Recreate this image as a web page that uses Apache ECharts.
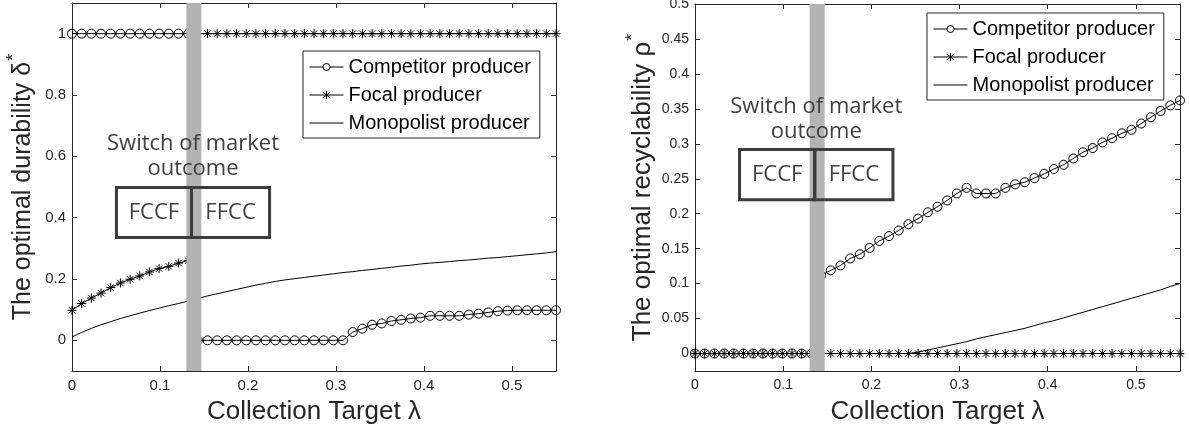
<!DOCTYPE html>
<html>
<head>
<meta charset="utf-8">
<script src="https://cdn.jsdelivr.net/npm/echarts@6/dist/echarts.min.js"></script>
<style>
  html, body { margin: 0; padding: 0; background: #fff; }
  #chart { width: 1189px; height: 433px; }
</style>
</head>
<body>
<div id="chart"></div>
<script>
// collection target lambda (x grid shared by every curve)
var lambda = [0, 0.011, 0.022, 0.033, 0.044, 0.055, 0.066, 0.077, 0.088, 0.099,
    0.11, 0.121, 0.132, 0.143, 0.154, 0.165, 0.176, 0.187, 0.198, 0.209,
    0.22, 0.231, 0.242, 0.253, 0.264, 0.275, 0.286, 0.297, 0.308, 0.319,
    0.33, 0.341, 0.352, 0.363, 0.374, 0.385, 0.396, 0.407, 0.418, 0.429,
    0.44, 0.451, 0.462, 0.473, 0.484, 0.495, 0.506, 0.517, 0.528, 0.539, 0.55];

// left panel: optimal durability
var durCompetitor = [1, 1, 1, 1, 1, 1, 1, 1, 1, 1, 1, 1, 1, 0,
    0, 0, 0, 0, 0, 0, 0, 0, 0, 0, 0, 0, 0, 0, 0,
    0.027, 0.038, 0.051, 0.055, 0.063, 0.067, 0.071, 0.074, 0.080, 0.080, 0.080,
    0.080, 0.084, 0.087, 0.091, 0.095, 0.097, 0.098, 0.098, 0.098, 0.098, 0.098];
var durFocal = [0.098, 0.120, 0.138, 0.154, 0.172, 0.187, 0.199, 0.210, 0.223, 0.234,
    0.241, 0.252, 0.260, 1, 1, 1, 1, 1, 1, 1, 1, 1, 1, 1, 1, 1, 1, 1, 1, 1,
    1, 1, 1, 1, 1, 1, 1, 1, 1, 1, 1, 1, 1, 1, 1, 1, 1, 1, 1, 1, 1];
var durMonopolist = [0.011, 0.026, 0.039, 0.051, 0.061, 0.071, 0.080, 0.089, 0.097, 0.105,
    0.113, 0.120, 0.128, 0.136, 0.145, 0.152, 0.159, 0.166, 0.173, 0.180,
    0.186, 0.192, 0.197, 0.201, 0.205, 0.209, 0.213, 0.217, 0.221, 0.224,
    0.228, 0.231, 0.235, 0.238, 0.242, 0.245, 0.249, 0.252, 0.254, 0.257,
    0.260, 0.262, 0.265, 0.268, 0.270, 0.273, 0.276, 0.279, 0.282, 0.285, 0.289];

// right panel: optimal recyclability
var recCompetitor = [0, 0, 0, 0, 0, 0, 0, 0, 0, 0, 0, 0, 0, 0.112,
    0.119, 0.126, 0.136, 0.142, 0.151, 0.161, 0.168, 0.176, 0.185, 0.193,
    0.202, 0.210, 0.219, 0.229, 0.237,
    0.229, 0.229, 0.229, 0.237, 0.242, 0.245, 0.251, 0.257, 0.264, 0.270,
    0.279, 0.288, 0.294, 0.302, 0.308, 0.315, 0.320, 0.329, 0.338, 0.347, 0.355, 0.362];
var recFocal = [0, 0, 0, 0, 0, 0, 0, 0, 0, 0, 0, 0, 0, 0, 0, 0, 0, 0, 0, 0,
    0, 0, 0, 0, 0, 0, 0, 0, 0, 0, 0, 0, 0, 0, 0, 0, 0, 0, 0, 0,
    0, 0, 0, 0, 0, 0, 0, 0, 0, 0, 0];
var recMonopolist = [0, 0, 0, 0, 0, 0, 0, 0, 0, 0, 0, 0, 0, 0, 0, 0, 0, 0, 0, 0,
    0, 0, 0, 0.002, 0.005, 0.008, 0.011, 0.014, 0.017, 0.021,
    0.024, 0.027, 0.030, 0.033, 0.036, 0.040, 0.044, 0.047, 0.051, 0.055,
    0.059, 0.063, 0.067, 0.071, 0.075, 0.079, 0.083, 0.087, 0.091, 0.096, 0.100];

var xTicks = [0, 0.1, 0.2, 0.3, 0.4, 0.5];
var durTicks = [0, 0.2, 0.4, 0.6, 0.8, 1];
var recTicks = [0, 0.05, 0.1, 0.15, 0.2, 0.25, 0.3, 0.35, 0.4, 0.45, 0.5];

var seriesNames = ['Competitor producer', 'Focal producer', 'Monopolist producer'];
var switchBand = [0.13, 0.147];          // grey "switch" strip
var regimes = ['FCCF', 'FFCC'];

var AXIS = '#262626';
var FONT = 'Liberation Sans, Arial';
var ASTERISK = 'path://M5,0L5,10M0,5L10,5M1.46,1.46L8.54,8.54M1.46,8.54L8.54,1.46';

// legend keys drawn in a 34x10 box: line with marker in the middle
var KEY_CIRCLE = 'path://M0,5H13.5A3.5,3.5 0 1,1 20.5,5A3.5,3.5 0 1,1 13.5,5M20.5,5H34M0,0.01H0.01M33.99,9.99H34';
var KEY_STAR = 'path://M0,5H34M17,1V9M13.2,2.2L20.8,7.8M13.2,7.8L20.8,2.2M0,0.01H0.01M33.99,9.99H34';
var KEY_LINE = 'path://M0,5H34M0,0.01H0.01M33.99,9.99H34';

function pts(vals) {
    return lambda.map(function (x, i) { return [x, vals[i]]; });
}

function xAxes(grid, tickSize) {
    var base = {
        type: 'value', gridIndex: grid, min: 0, max: 0.55,
        axisLine: { onZero: false, lineStyle: { color: AXIS, width: 1 } },
        axisTick: { inside: true, length: 5, customValues: xTicks, lineStyle: { color: AXIS } },
        splitLine: { show: false }
    };
    var bottom = echarts.util.merge({
        position: 'bottom',
        axisLabel: { customValues: xTicks, margin: 7, color: AXIS, fontSize: tickSize, fontFamily: FONT },
        name: 'Collection Target \u03bb', nameLocation: 'middle', nameGap: 28,
        nameTextStyle: { fontSize: 26, color: AXIS, fontFamily: FONT }
    }, base, true);
    var top = echarts.util.merge({ position: 'top', axisLabel: { show: false } }, base, true);
    return [bottom, top];
}

function yAxes(grid, min, max, ticks, tickSize, name, nameSize, gap) {
    var base = {
        type: 'value', gridIndex: grid, min: min, max: max,
        axisLine: { show: true, onZero: false, lineStyle: { color: AXIS, width: 1 } },
        axisTick: { show: true, inside: true, length: 5, customValues: ticks, lineStyle: { color: AXIS } },
        splitLine: { show: false }
    };
    var left = echarts.util.merge({
        position: 'left',
        axisLabel: { customValues: ticks, margin: 6, color: AXIS, fontSize: tickSize, fontFamily: FONT },
        name: name + '{sup|*}', nameLocation: 'middle', nameGap: gap,
        nameTextStyle: { fontSize: nameSize, color: AXIS, fontFamily: FONT,
            rich: { sup: { fontSize: 18, padding: [0, 0, 19, 1], color: AXIS } } }
    }, base, true);
    var right = echarts.util.merge({ position: 'right', axisLabel: { show: false } }, base, true);
    return [left, right];
}

function panelSeries(xi, yi, comp, foc, mono, boxTop, boxBottom, labelDist) {
    var line = { width: 1, color: '#000' };
    return [
        {
            name: seriesNames[0], type: 'line', xAxisIndex: xi, yAxisIndex: yi,
            data: pts(comp), symbol: 'circle', symbolSize: 9, lineStyle: line,
            itemStyle: { color: 'none', borderColor: '#000', borderWidth: 1 }, z: 2
        },
        {
            name: seriesNames[1], type: 'line', xAxisIndex: xi, yAxisIndex: yi,
            data: pts(foc), symbol: ASTERISK, symbolSize: 9, lineStyle: line,
            itemStyle: { color: '#000', borderColor: '#000', borderWidth: 1 }, z: 2
        },
        {
            name: seriesNames[2], type: 'line', xAxisIndex: xi, yAxisIndex: yi,
            data: pts(mono), symbol: 'none', lineStyle: line, itemStyle: { color: '#000' }, z: 2
        },
        {
            // grey strip where the market outcome switches
            name: 'band', type: 'line', xAxisIndex: xi, yAxisIndex: yi, data: [], z: 3,
            markArea: {
                silent: true, z: 10,
                itemStyle: { color: '#b3b3b3' },
                data: [[{ xAxis: switchBand[0] }, { xAxis: switchBand[1] }]]
            }
        },
        {
            name: 'regimes', type: 'line', xAxisIndex: xi, yAxisIndex: yi, data: [], z: 4,
            markArea: {
                silent: true, z: 11,
                data: [
                    [{ name: 'Switch of market\noutcome', xAxis: 0.0505, yAxis: boxTop,
                        itemStyle: { color: 'none', borderWidth: 0 },
                        label: { position: 'top', distance: labelDist, align: 'center',
                            lineHeight: 25, fontSize: 22, color: '#404040',
                            fontFamily: 'Open Sans' } },
                     { xAxis: 0.2245, yAxis: boxTop }],
                    [{ name: regimes[0], xAxis: 0.0505, yAxis: boxTop }, { xAxis: 0.1358, yAxis: boxBottom }],
                    [{ name: regimes[1], xAxis: 0.1358, yAxis: boxTop }, { xAxis: 0.2245, yAxis: boxBottom }]
                ],
                itemStyle: { color: 'rgba(255,255,255,0)', borderColor: '#3c3c3c', borderWidth: 3 },
                label: { show: true, position: 'inside', fontSize: 22, color: '#404040',
                    fontFamily: 'Open Sans' }
            }
        }
    ];
}

function legendAt(left, top) {
    var key = { color: 'none', borderColor: '#000', borderWidth: 1 };
    return {
        data: [
            { name: seriesNames[0], icon: KEY_CIRCLE, itemStyle: key },
            { name: seriesNames[1], icon: KEY_STAR, itemStyle: key },
            { name: seriesNames[2], icon: KEY_LINE, itemStyle: key }
        ],
        orient: 'vertical', left: left, top: top,
        itemWidth: 34, itemHeight: 10, itemGap: 8,
        padding: [6, 9, 5, 4], backgroundColor: '#fff',
        borderColor: AXIS, borderWidth: 1,
        textStyle: { fontSize: 20, lineHeight: 20, color: '#000', fontFamily: FONT },
        selectedMode: false
    };
}

var chart = echarts.init(document.getElementById('chart'), null, { renderer: 'canvas' });

var xs = xAxes(0, 15).concat(xAxes(1, 14));
var ys = yAxes(0, -0.1, 1.1, durTicks, 15, 'The optimal durability \u03b4', 25, 30)
    .concat(yAxes(1, -0.025, 0.5, recTicks, 14, 'The optimal recyclability \u03c1', 26, 34));

var options = {
    animation: false,
    grid: [
        { left: 72, right: 633, top: 3, bottom: 62, outerBoundsMode: 'none' },
        { left: 695, right: 9, top: 4, bottom: 62, outerBoundsMode: 'none' }
    ],
    xAxis: xs,
    yAxis: ys,
    legend: [legendAt(303, 51), legendAt(927, 13)],
    series: panelSeries(0, 0, durCompetitor, durFocal, durMonopolist, 0.498, 0.335, 6)
        .concat(panelSeries(2, 2, recCompetitor, recFocal, recMonopolist, 0.292, 0.220, 5))
};

chart.setOption(options);
</script>
</body>
</html>
